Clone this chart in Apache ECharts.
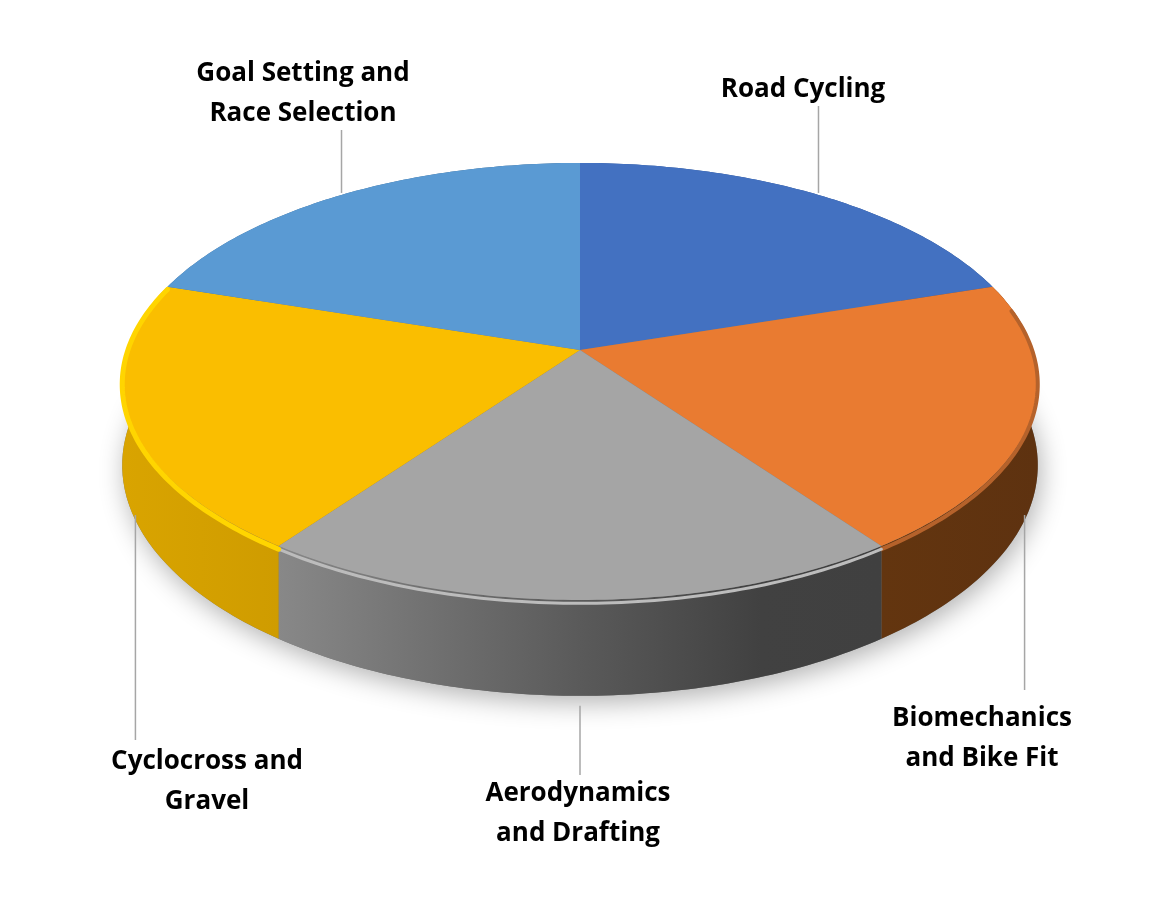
<!DOCTYPE html>
<html>
<head>
<meta charset="utf-8">
<script src="https://cdn.jsdelivr.net/npm/echarts@6/dist/echarts.min.js"></script>
<style>
html,body{margin:0;padding:0;background:#fff;}
#chart{width:1158px;height:902px;}
</style>
</head>
<body>
<div id="chart"></div>
<script>
// ---- data ----
const categories = ['Road Cycling', 'Biomechanics and Bike Fit', 'Aerodynamics and Drafting', 'Cyclocross and Gravel', 'Goal Setting and Race Selection'];
const values = [20, 20, 20, 20, 20];
const labelTexts = ['Road Cycling', 'Biomechanics\nand Bike Fit', 'Aerodynamics\nand Drafting', 'Cyclocross and\nGravel', 'Goal Setting and\nRace Selection'];

// ---- styles / layout ----
const topColors = ['#4371C1', '#E97B31', '#A5A5A5', '#FABE00', '#5A9AD3'];
const sideColors = [
  [['#2f5597', 0], ['#2a4c86', 1]],
  [['#63350f', 0], ['#5e3210', 1]],
  [['#888888', 0], ['#5a5a5a', 0.5], ['#414141', 0.8], ['#404040', 1]],
  [['#D9A400', 0], ['#CF9C00', 1]],
  [['#41719c', 0], ['#3a668c', 1]]
];
const rimColors = ['#4371C1', '#b5622b', '#bcbcbc', '#FFD500', '#5A9AD3'];
const rimWidths = [0, 4, 3, 5, 0];
const labelPos = [[803, 90], [982, 739], [578, 814], [207, 782], [303, 94]];
const leaderEndY = [106, 690, 775, 740, 130];
const LABEL_FONT = 'bold 26px "Open Sans"';

const CX = 580, CY = 350, RX = 453, RY = 214, P = 0.144, T = 82;
const total = values.reduce((a, b) => a + b, 0);

function proj(theta, h) {
  const u = Math.cos(theta), v = Math.sin(theta), s = 1 / (1 + P * v);
  return [CX + RX * u * s, CY - RY * v * s + h * T * s];
}
function arc(a0, a1, h, n) {
  const pts = [];
  for (let i = 0; i <= n; i++) pts.push(proj(a0 + (a1 - a0) * i / n, h));
  return pts;
}

function renderItem(params, api) {
  const i = params.dataIndex;
  let cum = 0;
  for (let k = 0; k < i; k++) cum += values[k];
  const val = api.value(0);
  const a0 = Math.PI / 2 - 2 * Math.PI * cum / total;
  const a1 = Math.PI / 2 - 2 * Math.PI * (cum + val) / total;
  const amid = (a0 + a1) / 2;
  const children = [];

  if (i === 0) {
    children.push({
      type: 'polygon', z2: 0,
      shape: { points: arc(0, Math.PI * 2, 1, 200) },
      style: { fill: '#777', shadowBlur: 26, shadowColor: 'rgba(0,0,0,0.3)', shadowOffsetX: 3, shadowOffsetY: 7 }
    });
  }
  const topArc = arc(a0, a1, 0, 80);
  const botArc = arc(a1, a0, 1, 80);
  children.push({
    type: 'polygon', z2: 2 + (Math.sin(amid) < 0 ? 3 : 0),
    shape: { points: topArc.concat(botArc) },
    style: {
      fill: new echarts.graphic.LinearGradient(0, 0, 1, 0,
        sideColors[i].map(c => ({ offset: c[1], color: c[0] })))
    }
  });
  children.push({
    type: 'polygon', z2: 10,
    shape: { points: [[CX, CY]].concat(topArc) },
    style: { fill: topColors[i] }
  });
  if (rimWidths[i] > 0) {
    const lim = Math.asin(0.2);
    const r0 = Math.min(a0, lim), r1 = a1;
    if (r0 > r1) {
      children.push({
        type: 'polyline', z2: 11,
        shape: { points: arc(r0, r1, 0.035, 80) },
        style: { stroke: rimColors[i], lineWidth: rimWidths[i], fill: null, lineCap: 'round' }
      });
    }
  }
  const front = Math.sin(amid) < 0;
  const p = proj(amid, front ? 1 : 0);
  const ax = front ? CX + (p[0] - CX) * 0.986 : p[0];
  const y0 = front ? p[1] + 10 : p[1] - 2;
  children.push({
    type: 'line', z2: 20,
    shape: { x1: ax, y1: y0, x2: ax, y2: leaderEndY[i] },
    style: { stroke: '#a6a6a6', lineWidth: 1.5 }
  });
  children.push({
    type: 'text', z2: 21,
    style: {
      text: labelTexts[i], x: labelPos[i][0], y: labelPos[i][1],
      align: 'center', verticalAlign: 'middle',
      font: LABEL_FONT, lineHeight: 40, fill: '#000'
    }
  });
  return { type: 'group', children: children };
}

const chart = echarts.init(document.getElementById('chart'), null, { renderer: 'canvas' });
chart.setOption({
  backgroundColor: '#ffffff',
  animation: false,
  series: [{
    type: 'custom',
    coordinateSystem: 'none',
    renderItem: renderItem,
    data: values.map((v, k) => ({ name: categories[k], value: [v] }))
  }]
});
</script>
</body>
</html>
